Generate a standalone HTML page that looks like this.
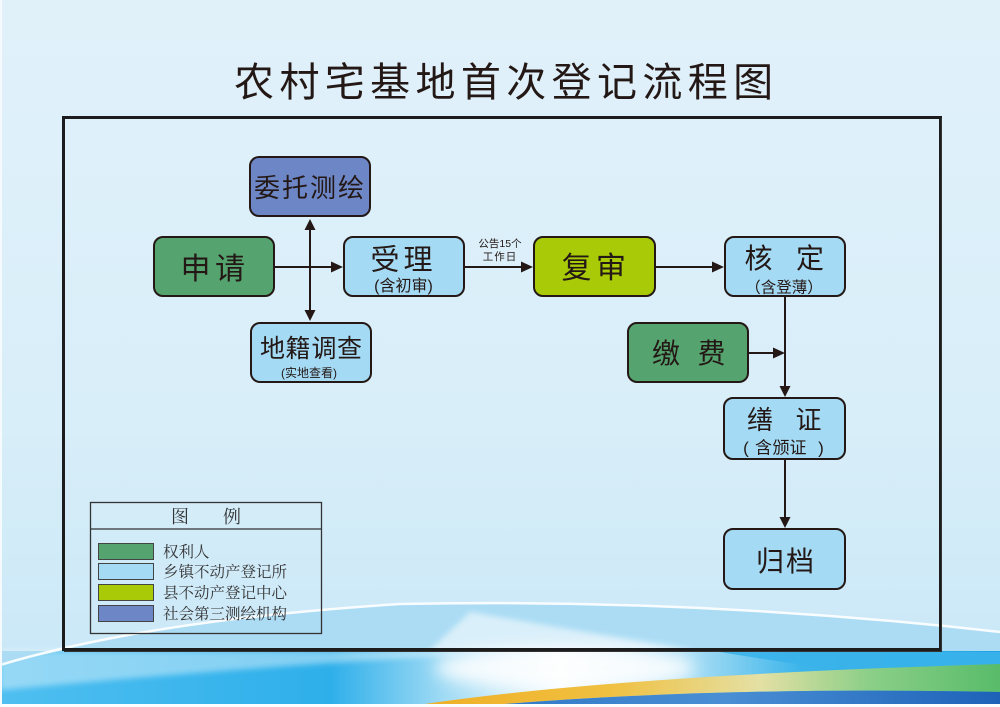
<!DOCTYPE html>
<html><head><meta charset="utf-8">
<style>
html,body{margin:0;padding:0;width:1000px;height:707px;overflow:hidden;background:#fff}
svg{display:block}
.s{font-family:"Liberation Sans","Noto Sans CJK SC",sans-serif;fill:#231815}
.r{font-family:"Liberation Serif","Noto Serif CJK SC",serif;fill:#333}
</style></head><body>
<svg width="1000" height="707" viewBox="0 0 1000 707" xmlns="http://www.w3.org/2000/svg">
<defs>
<linearGradient id="bg" x1="0" y1="0" x2="0" y2="1">
<stop offset="0" stop-color="#e1f1fa"/><stop offset="0.6" stop-color="#d8eef9"/><stop offset="1" stop-color="#c8e7f7"/>
</linearGradient>
<linearGradient id="blue" x1="0" y1="0" x2="1" y2="0">
<stop offset="0" stop-color="#4fbff0"/><stop offset="0.33" stop-color="#2eafea"/><stop offset="0.45" stop-color="#a6ddf5"/><stop offset="0.56" stop-color="#f3fafd"/><stop offset="0.68" stop-color="#b4e2f6"/><stop offset="0.8" stop-color="#3db5ea"/><stop offset="1" stop-color="#22a3e4"/>
</linearGradient>
<linearGradient id="band" x1="400" y1="0" x2="1000" y2="0" gradientUnits="userSpaceOnUse">
<stop offset="0" stop-color="#efad24"/><stop offset="0.35" stop-color="#f0c040"/><stop offset="0.6" stop-color="#e4e0a4"/><stop offset="0.78" stop-color="#8ccf88"/><stop offset="1" stop-color="#58bc6a"/>
</linearGradient>
<linearGradient id="dark" x1="450" y1="0" x2="1000" y2="0" gradientUnits="userSpaceOnUse">
<stop offset="0" stop-color="#2a74c4"/><stop offset="0.5" stop-color="#4a8fd4"/><stop offset="1" stop-color="#1d62b8"/>
</linearGradient>
<filter id="blur" x="-50%" y="-50%" width="200%" height="200%"><feGaussianBlur stdDeviation="8"/></filter>
<filter id="blur2" x="-50%" y="-50%" width="200%" height="200%"><feGaussianBlur stdDeviation="3"/></filter>
</defs>

<!-- background -->
<rect x="0" y="0" width="1000" height="707" fill="url(#bg)"/>
<path d="M0,665 Q150,620 400,604 Q700,598 1000,632 L1000,707 L0,707 Z" fill="#abdcf4"/>
<polygon points="470,612 700,652 420,660" fill="#ffffff" opacity="0.55" filter="url(#blur2)"/>
<rect x="0" y="651" width="1000" height="56" fill="url(#blue)"/>
<path d="M0,651 L540,651 Q300,662 0,690 Z" fill="#ffffff" opacity="0.4" filter="url(#blur2)"/>
<path d="M0,665 Q30,657 62,651 L0,651 Z" fill="#abdcf4"/>
<ellipse cx="565" cy="668" rx="130" ry="22" fill="#ffffff" opacity="0.85" filter="url(#blur)"/>
<path d="M720,652 L1000,652 L1000,668 Q900,666 850,671 Q780,662 720,652 Z" fill="#3ab3ea" opacity="0.9"/>
<path d="M405,707 Q600,676 1000,664 L1000,692 Q700,686 470,707 Z" fill="url(#band)"/>
<path d="M470,707 Q700,686 1000,692 L1000,707 Z" fill="url(#dark)"/>
<path d="M0,665 Q150,620 400,604 Q700,598 1000,632" fill="none" stroke="#ffffff" stroke-width="2.5" opacity="0.9"/>
<rect x="0" y="704" width="1000" height="3" fill="#ffffff"/>
<rect x="0" y="0" width="2" height="707" fill="#f4fafd"/>

<!-- title -->
<text class="s" font-size="40" y="96" text-anchor="middle" x="254 299.4 344.8 390.1 435.5 480.9 526.3 571.6 617 662.4 707.8 753.1">农村宅基地首次登记流程图</text>

<!-- frame -->
<rect x="63.5" y="117.5" width="877" height="532" fill="none" stroke="#1c1c1c" stroke-width="3"/>
<line x1="941.5" y1="118" x2="941.5" y2="651" stroke="#333" stroke-width="1"/>
<line x1="64" y1="651.5" x2="942" y2="651.5" stroke="#333" stroke-width="1"/>

<!-- connectors -->
<g stroke="#231815" stroke-width="2" fill="none">
<line x1="275" y1="267" x2="333" y2="267"/>
<line x1="310" y1="228" x2="310" y2="312"/>
<line x1="465" y1="267" x2="523" y2="267"/>
<line x1="656" y1="267" x2="714" y2="267"/>
<line x1="785" y1="297" x2="785" y2="387"/>
<line x1="749" y1="353" x2="776" y2="353"/>
<line x1="785" y1="460" x2="785" y2="518"/>
</g>
<g fill="#231815">
<polygon points="343,267 331,261.5 331,272.5"/>
<polygon points="310,219 304.5,230 315.5,230"/>
<polygon points="310,321 304.5,310 315.5,310"/>
<polygon points="533,267 521,261.5 521,272.5"/>
<polygon points="724,267 712,261.5 712,272.5"/>
<polygon points="785,397 779.5,386 790.5,386"/>
<polygon points="785,353 773,347.5 773,358.5"/>
<polygon points="785,528 779.5,517 790.5,517"/>
</g>
<text class="s" font-size="10.5" x="500" y="247" text-anchor="middle">公告15个</text>
<text class="s" font-size="10.5" x="500" y="260" text-anchor="middle" letter-spacing="1">工作日</text>

<!-- boxes -->
<g stroke="#231815" stroke-width="2">
<rect x="250" y="157" width="120" height="59" rx="9" fill="#6d86c5"/>
<rect x="154" y="237" width="120" height="59" rx="9" fill="#55a36e"/>
<rect x="344" y="237" width="120" height="59" rx="9" fill="#a5daf4"/>
<rect x="251" y="323" width="120" height="59" rx="9" fill="#a5daf4"/>
<rect x="534" y="237" width="121" height="59" rx="9" fill="#a9cb07"/>
<rect x="725" y="237" width="120" height="59" rx="9" fill="#a5daf4"/>
<rect x="628" y="323" width="120" height="59" rx="9" fill="#55a36e"/>
<rect x="724" y="398" width="121" height="61" rx="9" fill="#a5daf4"/>
<rect x="724" y="529" width="121" height="60" rx="9" fill="#a5daf4"/>
</g>

<!-- box text -->
<text class="s" font-size="26" y="197" text-anchor="middle" x="267 295 323 351">委托测绘</text>
<text class="s" font-size="30" y="279" text-anchor="middle" x="195.5 230">申请</text>
<text class="s" font-size="29" y="269.5" text-anchor="middle" x="385 418">受理</text>
<text class="s" font-size="16" y="291" text-anchor="middle" x="403.5">(含初审)</text>
<text class="s" font-size="25" y="357" text-anchor="middle" x="272.5 298 324 349.5">地籍调查</text>
<text class="s" font-size="12" y="377" text-anchor="middle" x="309">(实地查看)</text>
<text class="s" font-size="30" y="278" text-anchor="middle" x="576.5 611">复审</text>
<text class="s" font-size="28" y="268" text-anchor="middle" x="758.5 810">核定</text>
<text class="s" font-size="15.5" y="292.5" text-anchor="middle" x="784">（含登薄）</text>
<text class="s" font-size="28" y="363" text-anchor="middle" x="666 711.5">缴费</text>
<text class="s" font-size="26" y="429" text-anchor="middle" x="760 808.5">缮证</text>
<text class="s" font-size="17" y="453.5" text-anchor="middle" x="746 763.5 781 798 821">(含颁证)</text>
<text class="s" font-size="28" y="571" text-anchor="middle" x="770 800">归档</text>

<!-- legend -->
<rect x="90.5" y="502.5" width="231" height="131" fill="none" stroke="#333" stroke-width="1.3"/>
<line x1="90.5" y1="529" x2="321.5" y2="529" stroke="#333" stroke-width="1.3"/>
<text class="r" font-size="18" y="523" text-anchor="middle" x="180 232">图例</text>
<g stroke="#444" stroke-width="1">
<rect x="98.5" y="543.5" width="55" height="16" fill="#55a36e"/>
<rect x="98.5" y="563.5" width="55" height="16" fill="#a5daf4"/>
<rect x="98.5" y="584.5" width="55" height="16" fill="#a9cb07"/>
<rect x="98.5" y="605.5" width="55" height="16" fill="#6d86c5"/>
</g>
<text class="r" font-size="15.5" x="163" y="557">权利人</text>
<text class="r" font-size="15.5" x="163" y="577">乡镇不动产登记所</text>
<text class="r" font-size="15.5" x="163" y="598">县不动产登记中心</text>
<text class="r" font-size="15.5" x="163" y="619">社会第三测绘机构</text>
</svg>
</body></html>
